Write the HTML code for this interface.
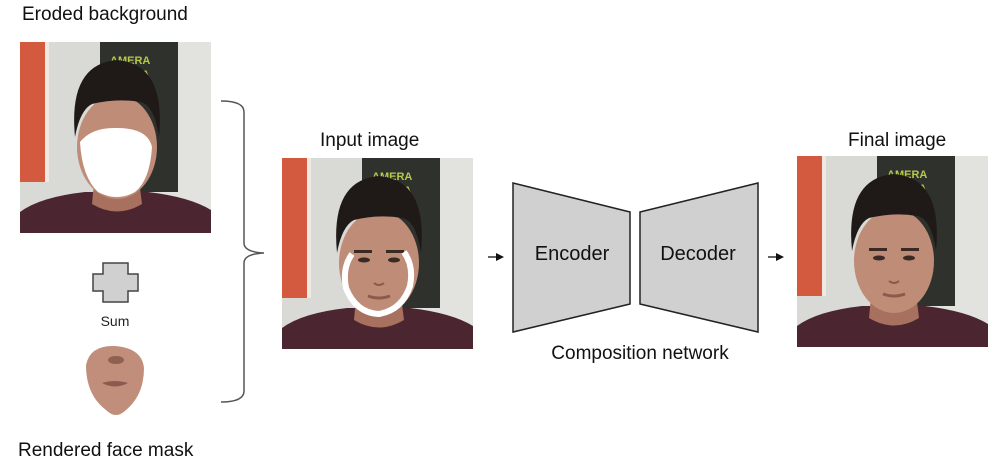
<!DOCTYPE html>
<html><head><meta charset="utf-8"><style>
body{margin:0;background:#fff;}
svg{display:block;font-family:"Liberation Sans",sans-serif;}
</style></head><body>
<svg width="1000" height="466" viewBox="0 0 1000 466" xmlns="http://www.w3.org/2000/svg">
<defs>
<g id="photo">
<rect x="0" y="0" width="191" height="191" fill="#d9dad6"/>
<rect x="110" y="0" width="81" height="191" fill="#e2e2de"/>
<rect x="0" y="0" width="25" height="140" fill="#d35a3e"/>
<rect x="25" y="0" width="4" height="140" fill="#efe9e2"/>
<rect x="80" y="0" width="78" height="150" fill="#2f312d"/>
<text x="90" y="22" font-size="11" font-weight="bold" fill="#b8c84a">AMERA</text>
<text x="115" y="36" font-size="11" font-weight="bold" fill="#b8c84a">VA</text>
<path d="M0 191 L0 170 Q20 155 65 150 L128 150 Q170 155 191 168 L191 191 Z" fill="#4b2631"/>
<path d="M75 130 L118 130 L122 162 Q97 177 72 162 Z" fill="#a8705e"/>
<ellipse cx="97" cy="105" rx="40" ry="52" fill="#bf8c78"/>
<path d="M55 95 Q48 22 97 18 Q146 22 139 95 Q134 62 120 60 Q97 56 72 62 Q60 68 55 95 Z" fill="#1f1a18"/>
<rect x="72" y="92" width="18" height="3" fill="#3a2a24"/>
<rect x="104" y="92" width="18" height="3" fill="#3a2a24"/>
<ellipse cx="82" cy="102" rx="6" ry="2.5" fill="#3a2a24"/>
<ellipse cx="112" cy="102" rx="6" ry="2.5" fill="#3a2a24"/>
<path d="M92 125 Q97 129 102 125" stroke="#8a5a4a" stroke-width="2" fill="none"/>
<path d="M86 138 Q97 142 108 138" stroke="#8a5a4a" stroke-width="3" fill="none"/>
</g>
</defs>
<text x="22" y="20" font-size="19" fill="#111">Eroded background</text>
<g transform="translate(20,42)">
<use href="#photo"/>
<path d="M60 100 Q72 85 97 86 Q128 86 132 105 Q130 138 115 150 Q97 160 78 150 Q62 135 60 100 Z" fill="#fff"/>
</g>
<path d="M103 263 L128 263 L128 274 L138 274 L138 291 L128 291 L128 302 L103 302 L103 291 L93 291 L93 274 L103 274 Z" fill="#d0d0d0" stroke="#444" stroke-width="1.5"/>
<text x="115" y="326" font-size="14" fill="#222" text-anchor="middle">Sum</text>
<path d="M86 365 Q90 345 115 346 Q142 348 144 368 Q144 395 126 410 Q116 420 106 410 Q86 395 86 365 Z" fill="#c08e7a"/>
<path d="M102 383 Q115 379 128 383 Q115 390 102 383 Z" fill="#8e5a50"/>
<ellipse cx="116" cy="360" rx="8" ry="4" fill="#8e6050"/>
<text x="18" y="456" font-size="19" fill="#111">Rendered face mask</text>
<path d="M221 101 Q244 101 244 112 L244 243 Q244 252 264 253 Q244 254 244 263 L244 391 Q244 402 221 402" fill="none" stroke="#555" stroke-width="1.5"/>
<text x="320" y="146" font-size="19" fill="#111">Input image</text>
<g transform="translate(282,158)">
<use href="#photo"/>
<path d="M70 96 Q60 110 64 130 Q74 155 97 156 Q120 152 128 128 Q132 108 122 94" fill="none" stroke="#fff" stroke-width="6"/>
</g>
<line x1="488" y1="257" x2="498" y2="257" stroke="#111" stroke-width="1.3"/>
<path d="M496 253 L504 257 L496 261 Z" fill="#111"/>
<path d="M513 183 L630 212 L630 304 L513 332 Z" fill="#d0d0d0" stroke="#222" stroke-width="1.5"/>
<path d="M640 212 L758 183 L758 332 L640 304 Z" fill="#d0d0d0" stroke="#222" stroke-width="1.5"/>
<text x="572" y="260" font-size="20" fill="#111" text-anchor="middle">Encoder</text>
<text x="698" y="260" font-size="20" fill="#111" text-anchor="middle">Decoder</text>
<text x="640" y="359" font-size="19" fill="#111" text-anchor="middle">Composition network</text>
<line x1="768" y1="257" x2="778" y2="257" stroke="#111" stroke-width="1.3"/>
<path d="M776 253 L784 257 L776 261 Z" fill="#111"/>
<text x="848" y="146" font-size="19" fill="#111">Final image</text>
<g transform="translate(797,156)"><use href="#photo"/></g>
</svg>
</body></html>
